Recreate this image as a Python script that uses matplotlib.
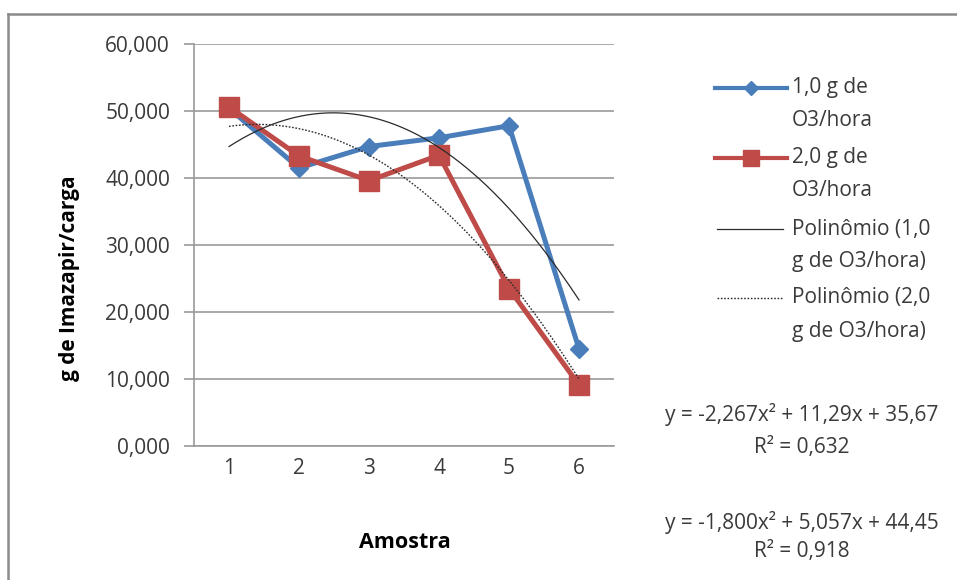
import numpy as np
import matplotlib
matplotlib.use("Agg")
import matplotlib.pyplot as plt
from matplotlib.lines import Line2D

# ---- data -------------------------------------------------------------
amostras = [1, 2, 3, 4, 5, 6]
serie_1g = [50.4, 41.5, 44.7, 46.0, 47.8, 14.5]   # 1,0 g de O3/hora
serie_2g = [50.6, 43.3, 39.6, 43.4, 23.5, 9.1]    # 2,0 g de O3/hora

# quadratic trend coefficients (a, b, c) for y = a x^2 + b x + c
coef_1g = [-2.267, 11.29, 35.67]
coef_2g = [-1.800, 5.057, 44.45]
r2_1g = 0.632
r2_2g = 0.918

y_ticks = [0, 10, 20, 30, 40, 50, 60]
legend_labels = [["1,0 g de", "O3/hora"],
                 ["2,0 g de", "O3/hora"],
                 ["Polinômio (1,0", "g de O3/hora)"],
                 ["Polinômio (2,0", "g de O3/hora)"]]

# ---- style ------------------------------------------------------------
W, H = 957, 580
BLUE = "#4A7EBB"
RED = "#BE4B48"
GRID = "#9a9a9a"
TXT = "#3a3a3a"
FONT = ["Open Sans", "DejaVu Sans"]
plt.rcParams["font.family"] = FONT

fig = plt.figure(figsize=(W / 100, H / 100), dpi=100)
fig.patch.set_facecolor("white")


def fx(px):
    return px / W


def fy(py):
    return 1 - py / H


# chart frame (left and top edges)
fig.add_artist(Line2D([fx(8), fx(8)], [fy(14), 0], color="#8a8a8a", lw=1.8))
fig.add_artist(Line2D([fx(8), 1], [fy(14), fy(14)], color="#8a8a8a", lw=1.8))

ax = fig.add_axes([fx(194), fy(446), fx(614) - fx(194), fy(44) - fy(446)])
ax.set_xlim(0.5, 6.5)
ax.set_ylim(0, 60)

for s in ["top", "right"]:
    ax.spines[s].set_visible(False)
for s in ["left", "bottom"]:
    ax.spines[s].set_color(GRID)
    ax.spines[s].set_linewidth(1.2)

ax.set_yticks(y_ticks)
ax.set_yticklabels([f"{v:.3f}".replace(".", ",") for v in y_ticks])
ax.set_xticks(amostras)
ax.set_xticklabels([str(a) for a in amostras])
ax.tick_params(axis="y", length=7.2, width=1.2, color=GRID, pad=10,
               labelsize=15, labelcolor=TXT)
ax.tick_params(axis="x", length=0, pad=9, labelsize=15, labelcolor=TXT)
ax.yaxis.grid(True, color=GRID, lw=1.2)
ax.set_axisbelow(True)

# data series
ax.plot(amostras, serie_1g, color=BLUE, lw=3.6, marker="D", ms=9.5,
        solid_joinstyle="round", zorder=3)
ax.plot(amostras, serie_2g, color=RED, lw=3.6, marker="s", ms=14,
        solid_joinstyle="round", zorder=4)

# polynomial trend lines
xt = np.linspace(amostras[0], amostras[-1], 300)
ax.plot(xt, np.polyval(coef_1g, xt), color="#2b2b2b", lw=0.9, zorder=5)
ax.plot(xt, np.polyval(coef_2g, xt), color="#2b2b2b", lw=1.0,
        linestyle=(0, (1.2, 1.2)), zorder=5)

ax.set_ylabel("g de Imazapir/carga", fontsize=15, fontweight="bold",
              color="black")
ax.yaxis.set_label_coords((70 - 194) / 420, (446 - 278) / 402)
ax.set_xlabel("Amostra", fontsize=15.5, fontweight="bold", color="black")
ax.xaxis.set_label_coords((405 - 194) / 420, (446 - 542) / 402)
ax.xaxis.label.set_va("center")
ax.yaxis.label.set_va("center")

# ---- legend -----------------------------------------------------------
leg_rows = [88, 158, 229, 298]
leg_styles = [dict(color=BLUE, lw=3.0, marker="D", ms=7.5),
              dict(color=RED, lw=3.0, marker="s", ms=11),
              dict(color="#2b2b2b", lw=0.9),
              dict(color="#2b2b2b", lw=1.0, linestyle=(0, (1.2, 1.2)))]
for yrow, st, lines in zip(leg_rows, leg_styles, legend_labels):
    x0, x1 = (715, 787) if "marker" in st else (717, 783)
    fig.add_artist(Line2D([fx(x0), fx(x1)], [fy(yrow), fy(yrow)],
                          **{k: v for k, v in st.items()
                             if k not in ("marker", "ms")}))
    if "marker" in st:
        fig.add_artist(Line2D([fx(751)], [fy(yrow)], color=st["color"],
                              marker=st["marker"], ms=st["ms"], lw=0))
    for i, t in enumerate(lines):
        fig.text(fx(792), fy(yrow + 33 * i), t, fontsize=15, color=TXT,
                 ha="left", va="center")

# ---- trend equations ---------------------------------------------------
def eq_text(c):
    def num(v, d):
        return f"{v:.{d}f}".replace(".", ",")
    return (f"y = {num(c[0], 3)}x² + {num(c[1], 2 if abs(c[1]) >= 10 else 3)}x"
            f" + {num(c[2], 2)}")


fig.text(fx(802), fy(415), eq_text(coef_1g), fontsize=15, color=TXT,
         ha="center", va="center")
fig.text(fx(802), fy(448), "R² = " + f"{r2_1g:.3f}".replace(".", ","),
         fontsize=15, color=TXT, ha="center", va="center")
fig.text(fx(802), fy(522), eq_text(coef_2g), fontsize=15, color=TXT,
         ha="center", va="center")
fig.text(fx(802), fy(552), "R² = " + f"{r2_2g:.3f}".replace(".", ","),
         fontsize=15, color=TXT, ha="center", va="center")

fig.savefig("out.png", dpi=100, facecolor="white")
